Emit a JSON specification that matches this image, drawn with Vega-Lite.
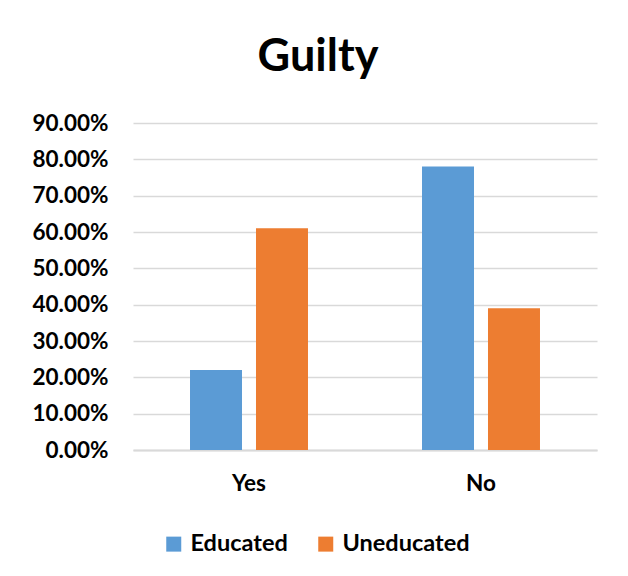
{
  "$schema": "https://vega.github.io/schema/vega-lite/v6.json",
  "autosize": {"type": "none"},
  "width": 464,
  "height": 327,
  "padding": {"left": 133, "top": 123, "right": 31, "bottom": 126},
  "background": "white",
  "title": {
    "text": "Guilty",
    "font": "Lato",
    "fontSize": 45,
    "fontWeight": "bold",
    "color": "#000000",
    "anchor": "middle",
    "baseline": "alphabetic",
    "offset": -4,
    "dx": -47
  },
  "data": {
    "values": [
      {"answer": "Yes", "group": "Educated", "value": 0.22},
      {"answer": "Yes", "group": "Uneducated", "value": 0.61},
      {"answer": "No", "group": "Educated", "value": 0.78},
      {"answer": "No", "group": "Uneducated", "value": 0.39}
    ]
  },
  "mark": {"type": "bar"},
  "encoding": {
    "x": {
      "field": "answer",
      "type": "nominal",
      "sort": ["Yes", "No"],
      "scale": {"paddingInner": 0, "paddingOuter": 0},
      "axis": {
        "title": null,
        "labelAngle": 0,
        "labelFont": "Lato",
        "labelFontSize": 22.5,
        "labelFontWeight": "bold",
        "labelColor": "#000000",
        "labelPadding": 22,
        "ticks": false,
        "domainColor": "#D9D9D9",
        "domainWidth": 2,
        "grid": false
      }
    },
    "xOffset": {
      "field": "group",
      "type": "nominal",
      "sort": ["Educated", "Uneducated"],
      "scale": {"paddingInner": 0.212, "paddingOuter": 0.864}
    },
    "y": {
      "field": "value",
      "type": "quantitative",
      "scale": {"domain": [0, 0.9], "nice": false},
      "axis": {
        "title": null,
        "format": ".2%",
        "values": [0, 0.1, 0.2, 0.3, 0.4, 0.5, 0.6, 0.7, 0.8, 0.9],
        "labelFont": "Lato",
        "labelFontSize": 22.5,
        "labelFontWeight": "bold",
        "labelColor": "#000000",
        "labelPadding": 25,
        "ticks": false,
        "domain": false,
        "gridColor": "#D9D9D9",
        "gridWidth": 1.5
      }
    },
    "color": {
      "field": "group",
      "type": "nominal",
      "sort": ["Educated", "Uneducated"],
      "scale": {"domain": ["Educated", "Uneducated"], "range": ["#5B9BD5", "#ED7D31"]},
      "legend": {
        "title": null,
        "orient": "none",
        "direction": "horizontal",
        "legendX": 29,
        "legendY": 409,
        "symbolType": "square",
        "symbolSize": 225,
        "symbolStrokeWidth": 0,
        "labelFont": "Lato",
        "labelFontSize": 23.5,
        "labelFontWeight": "bold",
        "labelColor": "#000000",
        "labelOffset": 5,
        "columnPadding": 26
      }
    }
  },
  "config": {
    "view": {"stroke": null}
  }
}
